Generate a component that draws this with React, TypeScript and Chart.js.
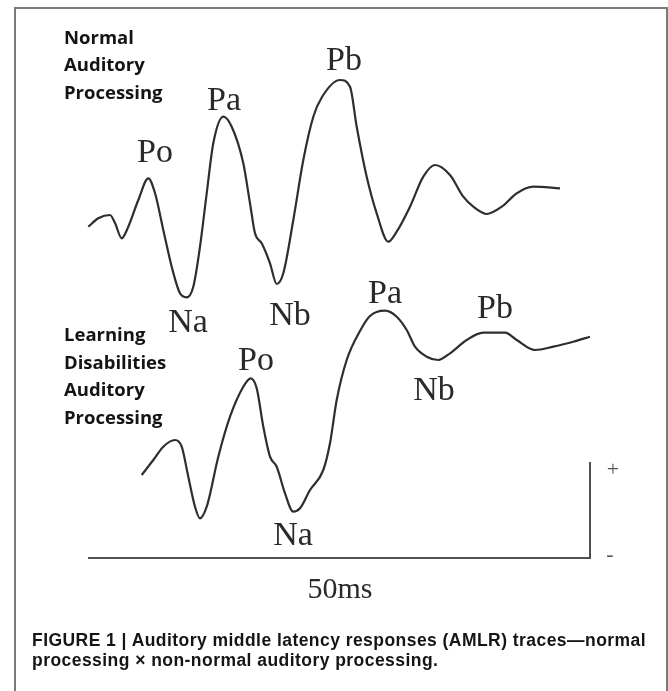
import React, { useEffect, useRef } from "react";
import { Chart, registerables } from "chart.js";
Chart.register(...registerables);

// Latency (ms) and amplitude (arbitrary units)
const normalTime = [-0.17, 0.83, 2.0, 2.5, 3.17, 3.83, 4.83, 5.83, 6.5, 7.33, 8.17, 9.0, 9.67, 10.33, 11.0, 11.67, 12.33, 13.33, 14.17, 15.33, 16.0, 16.5, 17.17, 18.0, 18.67, 19.33, 20.33, 21.33, 22.33, 23.2, 25.0, 26.0, 26.67, 27.67, 28.67, 29.83, 30.67, 32.0, 33.33, 34.5, 36.0, 37.33, 38.33, 39.67, 41.17, 42.67, 44.33, 47.0];
const normalAmp = [33.13, 33.97, 34.3, 33.5, 31.97, 33.13, 35.8, 37.97, 36.5, 32.8, 29.13, 26.47, 26.07, 27.13, 31.13, 36.47, 41.47, 44.13, 43.13, 39.47, 35.47, 32.47, 31.47, 29.47, 27.4, 28.47, 33.8, 39.8, 44.13, 46.1, 47.8, 47.13, 43.13, 38.13, 34.47, 31.63, 32.63, 35.13, 38.13, 39.3, 38.3, 36.13, 35.13, 34.4, 35.13, 36.47, 37.13, 36.97];

const ldTime = [5.17, 6.33, 7.33, 8.5, 9.17, 9.83, 10.5, 11.0, 11.67, 12.83, 14.0, 15.33, 16.07, 16.67, 17.33, 18.0, 18.67, 19.5, 20.33, 21.0, 22.0, 23.33, 24.0, 24.67, 25.67, 27.0, 28.0, 29.5, 30.67, 31.67, 32.5, 33.67, 34.83, 36.0, 37.67, 39.33, 41.5, 42.67, 44.5, 46.33, 48.33, 50.0];
const ldAmp = [8.3, 9.8, 11.13, 11.8, 11.13, 8.13, 5.13, 3.97, 5.13, 10.13, 14.13, 17.13, 17.97, 16.97, 13.13, 10.13, 9.13, 6.47, 4.63, 4.97, 6.8, 8.8, 11.47, 15.8, 19.8, 22.7, 24.2, 24.73, 24.13, 22.8, 21.13, 20.13, 19.8, 20.47, 21.8, 22.53, 22.53, 21.8, 20.8, 21.13, 21.63, 22.13];

// Peak labels
const normalPeakNames = ["Po", "Na", "Pa", "Nb", "Pb"];
const normalPeakTime = [6.5, 9.8, 13.4, 20.0, 25.4];
const normalPeakAmp = [39.6, 22.6, 44.8, 23.3, 48.8];

const ldPeakNames = ["Po", "Na", "Pa", "Nb", "Pb"];
const ldPeakTime = [16.6, 20.3, 29.5, 34.4, 40.5];
const ldPeakAmp = [18.8, 1.3, 25.5, 15.8, 24.0];

// Group labels
const normalGroupLines = ["Normal", "Auditory", "Processing"];
const ldGroupLines = ["Learning", "Disabilities", "Auditory", "Processing"];
const groupLabelTime = -2.6;
const normalGroupAmp = 51.45;
const ldGroupAmp = 21.7;

// Calibration bar
const scaleBarMs = 50;
const scaleBarAmp = 9.6;
const scaleBarText = "50ms";

const captionLine1 = "FIGURE 1 | Auditory middle latency responses (AMLR) traces\u2014normal";
const captionLine2 = "processing \u00d7 non-normal auditory processing.";

const labelPlugin = {
  id: "traceLabels",
  afterDatasetsDraw(chart: any) {
    const { ctx } = chart;
    const xs = chart.scales.x;
    const ys = chart.scales.y;
    ctx.save();
    ctx.textBaseline = "alphabetic";
    // peak labels
    ctx.fillStyle = "#2a2a2a";
    ctx.textAlign = "center";
    ctx.font = "34px 'Liberation Serif', 'Times New Roman', serif";
    normalPeakNames.forEach((n, i) => {
      ctx.fillText(n, xs.getPixelForValue(normalPeakTime[i]), ys.getPixelForValue(normalPeakAmp[i]));
    });
    ldPeakNames.forEach((n, i) => {
      ctx.fillText(n, xs.getPixelForValue(ldPeakTime[i]), ys.getPixelForValue(ldPeakAmp[i]));
    });
    // calibration text
    ctx.font = "30px 'Liberation Serif', 'Times New Roman', serif";
    ctx.fillText(scaleBarText, xs.getPixelForValue(scaleBarMs / 2), ys.getPixelForValue(-4.0));
    ctx.fillStyle = "#555";
    ctx.font = "22px 'Liberation Serif', serif";
    ctx.textBaseline = "middle";
    ctx.fillText("+", xs.getPixelForValue(scaleBarMs + 2.3), ys.getPixelForValue(scaleBarAmp - 0.8));
    ctx.fillText("-", xs.getPixelForValue(scaleBarMs + 2.0), ys.getPixelForValue(0.3));
    // group labels
    ctx.textBaseline = "alphabetic";
    ctx.textAlign = "left";
    ctx.fillStyle = "#141414";
    ctx.font = "bold 18.5px 'Open Sans', sans-serif";
    const lh = 27.6;
    const gx = xs.getPixelForValue(groupLabelTime);
    normalGroupLines.forEach((t, i) => {
      ctx.fillText(t, gx, ys.getPixelForValue(normalGroupAmp) + i * lh);
    });
    ldGroupLines.forEach((t, i) => {
      ctx.fillText(t, gx, ys.getPixelForValue(ldGroupAmp) + i * lh);
    });
    ctx.restore();
  },
};

export default function App() {
  const ref = useRef<HTMLCanvasElement | null>(null);
  useEffect(() => {
    if (!ref.current) return;
    const traceStyle = {
      borderColor: "#2e2e2e",
      borderWidth: 2.2,
      pointRadius: 0,
      cubicInterpolationMode: "monotone" as const,
      fill: false,
    };
    const barStyle = {
      borderColor: "#505050",
      borderWidth: 2,
      pointRadius: 0,
      tension: 0,
      fill: false,
    };
    const chart = new Chart(ref.current, {
      type: "line",
      data: {
        datasets: [
          { label: "Normal", data: normalTime.map((t, i) => ({ x: t, y: normalAmp[i] })), ...traceStyle },
          { label: "Learning disabilities", data: ldTime.map((t, i) => ({ x: t, y: ldAmp[i] })), ...traceStyle },
          { label: "time bar", data: [{ x: -0.2, y: 0 }, { x: scaleBarMs + 0.1, y: 0 }], ...barStyle },
          { label: "amp bar", data: [{ x: scaleBarMs, y: 0.1 }, { x: scaleBarMs, y: scaleBarAmp }], ...barStyle },
        ],
      },
      options: {
        responsive: false,
        maintainAspectRatio: false,
        animation: false,
        devicePixelRatio: 1,
        layout: { padding: 0 },
        parsing: false as any,
        scales: {
          x: { type: "linear", min: -9, max: 57.8, display: false },
          y: { type: "linear", min: -13.3, max: 55.8, display: false },
        },
        plugins: { legend: { display: false }, tooltip: { enabled: false } },
      },
      plugins: [labelPlugin],
    });
    return () => chart.destroy();
  }, []);

  return (
    <div style={{ position: "fixed", left: 0, top: 0, width: 668, height: 691, background: "#fff", overflow: "hidden" }}>
      <div style={{ position: "absolute", left: 14, top: 7, width: 650, height: 700, border: "2px solid #7a7a7a" }} />
      <canvas ref={ref} width={668} height={691} style={{ position: "absolute", left: 0, top: 0, width: 668, height: 691 }} />
      <div
        style={{
          position: "absolute",
          left: 32,
          top: 631,
          fontFamily: "'Liberation Sans', Arial, sans-serif",
          fontWeight: "bold",
          fontSize: 17.5,
          letterSpacing: "0.45px",
          lineHeight: "19.5px",
          color: "#151515",
          whiteSpace: "nowrap",
        }}
      >
        <div>{captionLine1}</div>
        <div>{captionLine2}</div>
      </div>
    </div>
  );
}
